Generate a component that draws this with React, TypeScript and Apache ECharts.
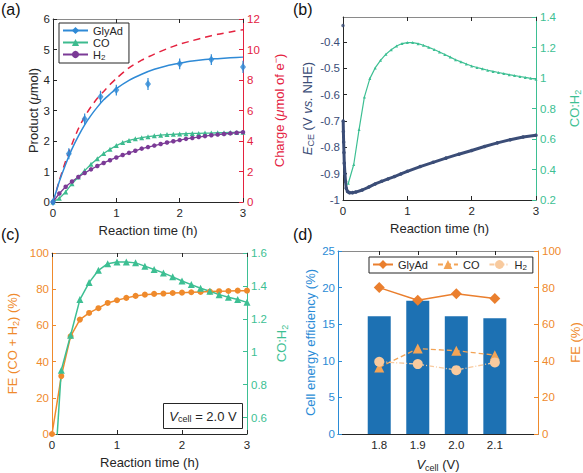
import React, { useEffect, useRef } from 'react';
import * as echarts from 'echarts';

const FONT = '"Liberation Sans", Arial, Helvetica, sans-serif';

// ---------- (a) ----------
const timeA = [0, 0.1, 0.2, 0.3, 0.4, 0.5, 0.6, 0.7, 0.8, 0.9, 1.0, 1.1, 1.2, 1.3, 1.4, 1.5, 1.6, 1.7, 1.8, 1.9, 2.0, 2.1, 2.2, 2.3, 2.4, 2.5, 2.6, 2.7, 2.8, 2.9, 3.0];
const coA = [0, 0.12, 0.33, 0.6, 0.82, 1.03, 1.24, 1.42, 1.59, 1.73, 1.85, 1.95, 2.02, 2.07, 2.11, 2.14, 2.17, 2.19, 2.21, 2.22, 2.23, 2.24, 2.25, 2.25, 2.26, 2.26, 2.27, 2.27, 2.28, 2.28, 2.29];
const h2A = [0, 0.28, 0.5, 0.67, 0.82, 0.95, 1.07, 1.18, 1.28, 1.37, 1.46, 1.54, 1.61, 1.68, 1.75, 1.8, 1.85, 1.9, 1.95, 1.99, 2.03, 2.07, 2.1, 2.13, 2.16, 2.19, 2.21, 2.23, 2.25, 2.27, 2.29];
const glyTimes = [0, 0.25, 0.5, 0.75, 1, 1.5, 2, 2.5, 3];
const glyPoints = [0, 1.58, 2.72, 3.45, 3.67, 3.87, 4.53, 4.67, 4.43];
const glyErr = [0, 0.08, 0.08, 0.1, 0.08, 0.1, 0.08, 0.08, 0.1];
const fitTimes = [0, 0.1, 0.2, 0.3, 0.4, 0.5, 0.6, 0.7, 0.8, 0.9, 1.0, 1.2, 1.4, 1.6, 1.8, 2.0, 2.2, 2.4, 2.6, 2.8, 3.0];
const glyFit = [0, 0.67, 1.24, 1.74, 2.16, 2.53, 2.84, 3.11, 3.35, 3.54, 3.72, 3.99, 4.19, 4.35, 4.47, 4.55, 4.62, 4.67, 4.7, 4.73, 4.75];
const chargeA = [0, 1.4, 2.7, 3.8, 4.8, 5.6, 6.25, 6.8, 7.25, 7.7, 8.1, 8.8, 9.3, 9.7, 10.05, 10.35, 10.58, 10.8, 11.0, 11.15, 11.3];

// ---------- (b) ----------
const eStartTime = [0];
const eStartValue = [-0.337];
const eTimes = [0.003, 0.006, 0.01, 0.015, 0.02, 0.03, 0.04, 0.05, 0.07, 0.1, 0.15, 0.2, 0.3, 0.4, 0.5, 0.6, 0.7, 0.8, 0.9, 1.0, 1.2, 1.4, 1.6, 1.8, 2.0, 2.2, 2.4, 2.6, 2.8, 3.0];
const eValues = [-0.70, -0.74, -0.78, -0.82, -0.86, -0.90, -0.93, -0.955, -0.968, -0.972, -0.972, -0.970, -0.962, -0.951, -0.939, -0.929, -0.920, -0.911, -0.901, -0.891, -0.873, -0.857, -0.841, -0.826, -0.812, -0.797, -0.783, -0.771, -0.761, -0.754];
const ratioBTimes = [0.083, 0.167, 0.25, 0.333, 0.417, 0.5, 0.583, 0.667, 0.75, 0.833, 0.917, 1.0, 1.083, 1.167, 1.25, 1.333, 1.417, 1.5, 1.583, 1.667, 1.75, 1.833, 1.917, 2.0, 2.083, 2.167, 2.25, 2.333, 2.417, 2.5, 2.583, 2.667, 2.75, 2.833, 2.917, 3.0];
const ratioB = [0.31, 0.433, 0.663, 0.876, 0.996, 1.066, 1.116, 1.156, 1.186, 1.21, 1.226, 1.232, 1.232, 1.225, 1.215, 1.201, 1.187, 1.171, 1.154, 1.137, 1.12, 1.106, 1.092, 1.079, 1.069, 1.06, 1.051, 1.043, 1.036, 1.029, 1.022, 1.016, 1.01, 1.004, 0.998, 0.992];

// ---------- (c) ----------
const timeC = [0, 0.143, 0.286, 0.429, 0.571, 0.714, 0.857, 1.0, 1.143, 1.286, 1.429, 1.571, 1.714, 1.857, 2.0, 2.143, 2.286, 2.429, 2.571, 2.714, 2.857, 3.0];
const feC = [0, 32.0, 54.0, 63.2, 66.9, 69.5, 72.4, 73.9, 75.2, 76.3, 77.0, 77.4, 77.6, 77.9, 78.1, 78.3, 78.5, 78.7, 78.9, 79.0, 79.2, 79.2];
const ratioC = [0, 0.888, 1.10, 1.317, 1.42, 1.495, 1.535, 1.545, 1.545, 1.54, 1.52, 1.5, 1.479, 1.455, 1.43, 1.408, 1.386, 1.368, 1.347, 1.331, 1.317, 1.30];

// ---------- (d) ----------
const vcell = [1.8, 1.9, 2.0, 2.1];
const cellEff = [16.1, 18.2, 16.1, 15.8];
const feGly = [80.0, 73.1, 76.7, 74.0];
const feCO = [36.4, 46.7, 45.5, 43.1];
const feH2 = [39.5, 38.2, 34.9, 39.1];

const AXIS = '#262626';
const BLUE_A = '#2f8ad6';
const GREEN_A = '#3dbb8f';
const PURPLE = '#7b3a96';
const RED = '#e4223f';
const NAVY = '#3b4d77';
const GREEN = '#3dbf93';
const ORANGE = '#ef8a2c';
const BAR = '#1d71b3';
const BLUE_D = '#2a8bd6';
const OR_GLY = '#ea7f2e';
const OR_CO = '#f3a456';
const OR_H2 = '#f8ca9e';

const pair = (xs: number[], ys: number[]) => xs.map((x, i) => [x, ys[i]]);

const rich = (color: string, size = 13) => ({
  it: { fontStyle: 'italic', fontSize: size, color, fontFamily: FONT },
  sub: { fontSize: size - 4, color, fontFamily: FONT, padding: [7, 0, 0, 0] },
  sup: { fontSize: size - 4, color, fontFamily: FONT, padding: [0, 0, 7, 0] },
});

const nameStyle = (color: string) => ({ color, fontSize: 13, fontFamily: FONT, rich: rich(color) });

function xAxes(grid: number, min: number, max: number, extra: any = {}, name: string = 'Reaction time (h)') {
  const base = {
    type: 'value', gridIndex: grid, min, max, interval: 1,
    splitLine: { show: false },
    axisLine: { show: true, onZero: false, lineStyle: { color: AXIS, width: 1 } },
  };
  return [
    {
      ...base,
      position: 'bottom',
      axisTick: { inside: true, length: 4, lineStyle: { color: AXIS }, ...(extra.tick || {}) },
      axisLabel: { color: AXIS, fontSize: 11.5, fontFamily: FONT, margin: 5, ...(extra.label || {}) },
      name, nameLocation: 'middle', nameGap: 22,
      nameTextStyle: nameStyle(AXIS),
    },
    {
      ...base,
      position: 'top',
      axisLine: { show: true, onZero: false, lineStyle: { color: '#8a8a8a', width: 1 } },
      axisTick: { inside: true, length: 4, lineStyle: { color: AXIS }, ...(extra.tick || {}) },
      axisLabel: { show: false },
    },
  ];
}

function yAxis(grid: number, pos: 'left' | 'right', min: number, max: number, color: string, lineColor: string, name: string, nameGap: number, extra: any = {}) {
  return {
    type: 'value', gridIndex: grid, position: pos, min, max,
    ...(extra.interval ? { interval: extra.interval } : {}),
    splitLine: { show: false },
    axisLine: { show: true, onZero: false, lineStyle: { color: lineColor, width: 1 } },
    axisTick: { show: true, inside: true, length: 4, lineStyle: { color: lineColor }, ...(extra.tick || {}) },
    axisLabel: { color, fontSize: 11.5, fontFamily: FONT, margin: pos === 'left' ? 3 : 4, ...(extra.label || {}) },
    name, nameLocation: 'middle', nameGap, nameRotate: 90,
    nameTextStyle: nameStyle(color),
  };
}

export default function App() {
  const ref = useRef<HTMLDivElement>(null);
  useEffect(() => {
    if (!ref.current) return;
    const chart = echarts.init(ref.current, undefined, { renderer: 'svg' });

    const custB = [-1, -0.9, -0.8, -0.7, -0.6, -0.5, -0.4];
    const custC = [0.6, 0.8, 1, 1.2, 1.4, 1.6];

    const option: any = {
      animation: false,
      backgroundColor: '#ffffff',
      textStyle: { fontFamily: FONT },
      grid: [
        { left: 53, top: 19, width: 190, height: 183 },
        { left: 343, top: 17, width: 194, height: 183 },
        { left: 52, top: 253, width: 195, height: 181 },
        { left: 338, top: 251, width: 203, height: 183 },
      ],
      xAxis: [
        ...xAxes(0, 0, 3),
        ...xAxes(1, 0, 3),
        ...xAxes(2, 0, 3),
        ...xAxes(3, 1.693, 2.212, {
          tick: { customValues: vcell },
          label: { customValues: vcell, formatter: (v: number) => v.toFixed(1) },
        }, '{it|V}{sub|cell} (V)'),
      ],
      yAxis: [
        yAxis(0, 'left', 0, 6, AXIS, AXIS, 'Product ({it|μ}mol)', 9, { interval: 1 }),
        yAxis(0, 'right', 0, 12, RED, RED, 'Charge ({it|μ}mol of e{sup|−})', 28, { interval: 2 }),
        yAxis(1, 'left', -1, -0.305, NAVY, AXIS, '{it|E}{sub|CE} (V {it|vs.} NHE)', 28, {
          tick: { customValues: custB }, label: { customValues: custB },
        }),
        yAxis(1, 'right', 0.2, 1.4, GREEN, GREEN, 'CO:H{sub|2}', 30, { interval: 0.2 }),
        yAxis(2, 'left', 0, 100, ORANGE, ORANGE, 'FE (CO + H{sub|2}) (%)', 32, { interval: 20 }),
        yAxis(2, 'right', 0.5, 1.6, GREEN, GREEN, 'CO:H{sub|2}', 26, {
          tick: { customValues: custC }, label: { customValues: custC },
        }),
        yAxis(3, 'left', 0, 25, BLUE_D, BLUE_D, 'Cell energy efficiency (%)', 21, { interval: 5 }),
        yAxis(3, 'right', 0, 100, ORANGE, ORANGE, 'FE (%)', 31, { interval: 20 }),
      ],
      legend: [
        {
          data: ['GlyAd', 'CO', 'H2'],
          orient: 'vertical',
          left: 59, top: 23,
          itemWidth: 25, itemHeight: 9, itemGap: 1,
          padding: [2, 6, 2, 3],
          borderColor: AXIS, borderWidth: 1, backgroundColor: '#fff',
          selectedMode: false,
          formatter: (n: string) => (n === 'H2' ? 'H{sub|2}' : n),
          textStyle: {
            fontSize: 11, color: AXIS, fontFamily: FONT,
            rich: { sub: { fontSize: 8, color: AXIS, fontFamily: FONT, padding: [5, 0, 0, 0] } },
          },
        },
        {
          data: ['GlyAd-d', 'CO-d', 'H2-d'],
          orient: 'horizontal',
          left: 369, top: 257,
          itemWidth: 20, itemHeight: 11, itemGap: 9,
          padding: [2, 6, 2, 3],
          borderColor: AXIS, borderWidth: 1, backgroundColor: '#fff',
          selectedMode: false,
          formatter: (n: string) => (n === 'H2-d' ? 'H{sub|2}' : n.replace('-d', '')),
          textStyle: {
            fontSize: 11, color: AXIS, fontFamily: FONT,
            rich: { sub: { fontSize: 8, color: AXIS, fontFamily: FONT, padding: [5, 0, 0, 0] } },
          },
        },
      ],
      graphic: [
        { type: 'text', left: 1, top: 1, style: { text: '(a)', fontSize: 16, fill: '#111', fontFamily: FONT } },
        { type: 'text', left: 293, top: 1, style: { text: '(b)', fontSize: 16, fill: '#111', fontFamily: FONT } },
        { type: 'text', left: 1, top: 226, style: { text: '(c)', fontSize: 16, fill: '#111', fontFamily: FONT } },
        { type: 'text', left: 293, top: 226, style: { text: '(d)', fontSize: 16, fill: '#111', fontFamily: FONT } },
        {
          type: 'group', left: 163, top: 403,
          children: [
            { type: 'rect', shape: { x: 0, y: 0, width: 79, height: 25 }, style: { fill: '#fff', stroke: AXIS, lineWidth: 1 } },
            {
              type: 'text', x: 39.5, y: 12.5,
              style: {
                text: '{it|V}{sub|cell} = 2.0 V', align: 'center', verticalAlign: 'middle',
                fontSize: 13, fill: AXIS, fontFamily: FONT,
                rich: {
                  it: { fontStyle: 'italic', fontSize: 13, fill: AXIS, fontFamily: FONT },
                  sub: { fontSize: 9, fill: AXIS, fontFamily: FONT, padding: [6, 0, 0, 0] },
                },
              },
            },
          ],
        },
      ],
      series: [
        // (a)
        {
          name: 'Charge', type: 'line', xAxisIndex: 0, yAxisIndex: 1,
          data: pair(fitTimes, chargeA), showSymbol: false, symbol: 'none', smooth: 0.2,
          lineStyle: { color: RED, width: 1.5, type: [7, 5] }, itemStyle: { color: RED }, z: 2,
        },
        {
          name: 'GlyAd', type: 'line', xAxisIndex: 0, yAxisIndex: 0,
          data: pair(fitTimes, glyFit), symbol: 'diamond', showSymbol: false, smooth: 0.2,
          lineStyle: { color: BLUE_A, width: 1.5 }, itemStyle: { color: BLUE_A }, z: 3,
        },
        {
          type: 'scatter', xAxisIndex: 0, yAxisIndex: 0,
          data: pair(glyTimes, glyPoints), symbol: 'diamond', symbolSize: [6, 8],
          itemStyle: { color: BLUE_A }, z: 4,
        },
        {
          type: 'custom', xAxisIndex: 0, yAxisIndex: 0, z: 4,
          data: glyTimes.map((t, i) => [t, glyPoints[i] - glyErr[i], glyPoints[i] + glyErr[i]]),
          renderItem: (params: any, api: any) => {
            const lo = api.coord([api.value(0), api.value(1)]);
            const hi = api.coord([api.value(0), api.value(2)]);
            return {
              type: 'line',
              shape: { x1: lo[0], y1: lo[1] + 3, x2: hi[0], y2: hi[1] - 3 },
              style: { stroke: BLUE_A, lineWidth: 1.2 },
            };
          },
        },
        {
          name: 'CO', type: 'line', xAxisIndex: 0, yAxisIndex: 0,
          data: pair(timeA, coA), symbol: 'triangle', symbolSize: 5,
          lineStyle: { color: GREEN_A, width: 1.3 }, itemStyle: { color: GREEN_A }, z: 3,
        },
        {
          name: 'H2', type: 'line', xAxisIndex: 0, yAxisIndex: 0,
          data: pair(timeA, h2A), symbol: 'circle', symbolSize: 4.5,
          lineStyle: { color: PURPLE, width: 1.3 }, itemStyle: { color: PURPLE }, z: 3,
        },
        // (b)
        {
          type: 'scatter', xAxisIndex: 2, yAxisIndex: 2,
          data: pair(eStartTime, eStartValue), symbol: 'circle', symbolSize: 3.5,
          itemStyle: { color: NAVY },
        },
        {
          type: 'line', xAxisIndex: 2, yAxisIndex: 2,
          data: pair(eTimes, eValues), symbol: 'circle', symbolSize: 3.5, showSymbol: true,
          lineStyle: { color: NAVY, width: 3 }, itemStyle: { color: NAVY },
        },
        {
          type: 'line', xAxisIndex: 2, yAxisIndex: 3,
          data: pair(ratioBTimes, ratioB), symbol: 'triangle', symbolSize: 3, showSymbol: true,
          lineStyle: { color: GREEN, width: 1.2 }, itemStyle: { color: GREEN },
        },
        // (c)
        {
          type: 'line', xAxisIndex: 4, yAxisIndex: 4,
          data: pair(timeC, feC), symbol: 'circle', symbolSize: 6,
          lineStyle: { color: ORANGE, width: 1.5 }, itemStyle: { color: ORANGE },
        },
        {
          type: 'line', xAxisIndex: 4, yAxisIndex: 5, clip: true,
          data: pair(timeC, ratioC), symbol: 'triangle', symbolSize: 7,
          lineStyle: { color: GREEN, width: 1.5 }, itemStyle: { color: GREEN },
        },
        // (d)
        {
          type: 'bar', xAxisIndex: 6, yAxisIndex: 6,
          data: pair(vcell, cellEff), barWidth: 23,
          itemStyle: { color: BAR },
        },
        {
          name: 'GlyAd-d', type: 'line', xAxisIndex: 6, yAxisIndex: 7,
          data: pair(vcell, feGly), symbol: 'diamond', symbolSize: 11,
          lineStyle: { color: OR_GLY, width: 1.5 }, itemStyle: { color: OR_GLY },
        },
        {
          name: 'CO-d', type: 'line', xAxisIndex: 6, yAxisIndex: 7,
          data: pair(vcell, feCO), symbol: 'triangle', symbolSize: 10,
          lineStyle: { color: OR_CO, width: 1.3, type: [5, 3] }, itemStyle: { color: OR_CO },
        },
        {
          name: 'H2-d', type: 'line', xAxisIndex: 6, yAxisIndex: 7,
          data: pair(vcell, feH2), symbol: 'circle', symbolSize: 10,
          lineStyle: { color: OR_H2, width: 1.3, type: [5, 2, 1, 2] }, itemStyle: { color: OR_H2 },
        },
      ],
    };
    chart.setOption(option);
    return () => chart.dispose();
  }, []);
  return <div ref={ref} style={{ position: 'absolute', left: 0, top: 0, width: 583, height: 473 }} />;
}
